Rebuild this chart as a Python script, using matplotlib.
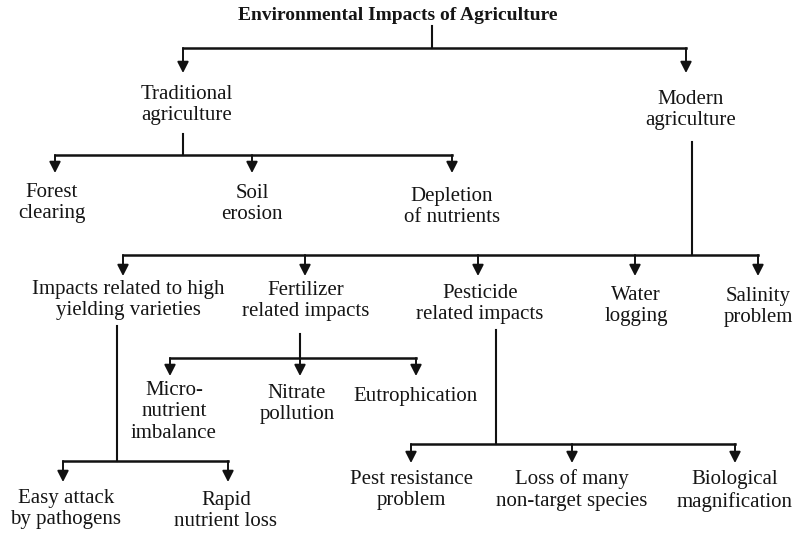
import matplotlib.pyplot as plt

# tree content
title = 'Environmental Impacts of Agriculture'
level1 = ['Traditional\nagriculture', 'Modern\nagriculture']
traditional = ['Forest\nclearing', 'Soil\nerosion', 'Depletion\nof nutrients']
modern = ['Impacts related to high\nyielding varieties', 'Fertilizer\nrelated impacts',
          'Pesticide\nrelated impacts', 'Water\nlogging', 'Salinity\nproblem']
hyv = ['Easy attack\nby pathogens', 'Rapid\nnutrient loss']
fertilizer = ['Micro-\nnutrient\nimbalance', 'Nitrate\npollution', 'Eutrophication']
pesticide = ['Pest resistance\nproblem', 'Loss of many\nnon-target species', 'Biological\nmagnification']

# canvas in pixel units
W, H = 793, 533
fig = plt.figure(figsize=(W / 100, H / 100), dpi=100)
ax = fig.add_axes([0, 0, 1, 1])
ax.set_xlim(0, W)
ax.set_ylim(H, 0)
ax.axis('off')

FS = 15
serif = ['Liberation Serif', 'DejaVu Serif']


def branch(px, y0, ybar, xs, yend):
    # stem from parent, horizontal bar, arrows down to children
    ax.plot([px, px], [y0, ybar], color='#111111', lw=1.5)
    ax.plot([min(xs), max(xs)], [ybar, ybar], color='#111111', lw=1.8)
    for x in xs:
        ax.annotate('', xy=(x, yend), xytext=(x, ybar),
                    arrowprops=dict(arrowstyle='-|>,head_length=0.55,head_width=0.28',
                                    color='#111111', lw=1.4,
                                    mutation_scale=12, shrinkA=0, shrinkB=0))


def labels(names, xs, ys):
    for n, x, y in zip(names, xs, ys):
        ax.text(x, y, n, ha='center', va='center', fontsize=FS, family=serif,
                linespacing=1.15, color='#151515')


ax.text(398, 16, title, ha='center', va='center', fontsize=14,
        fontweight='bold', family=serif, color='#151515')

branch(432, 26, 48, [183, 686], 73)
labels(level1, [187, 691], [105, 110])

branch(183, 134, 155, [55, 252, 452], 173)
labels(traditional, [52, 252, 452], [203, 204, 207])

branch(692, 142, 255, [123, 305, 478, 635, 758], 276)
labels(modern, [128, 306, 480, 636, 758], [300, 301, 304, 306, 307])

branch(300, 334, 358, [170, 300, 416], 376)
labels(fertilizer, [174, 297, 416], [412, 404, 397])

branch(117, 326, 461, [63, 228], 482)
labels(hyv, [66, 226], [509, 511])

branch(496, 330, 444, [411, 572, 735], 463)
labels(pesticide, [411, 572, 735], [490, 490, 491])

fig.savefig('out.png', dpi=100)
